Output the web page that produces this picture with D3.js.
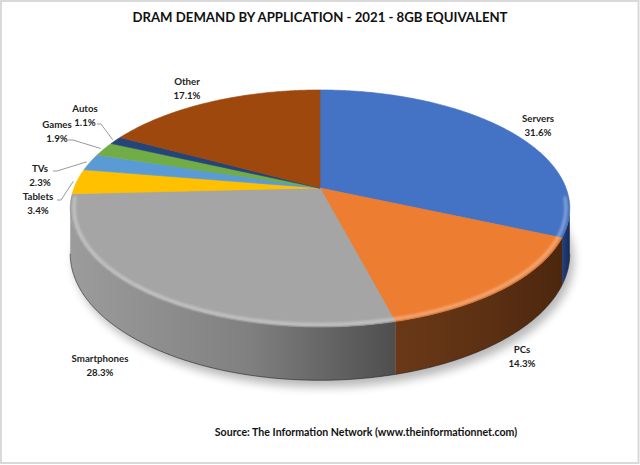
<!DOCTYPE html>
<html>
<head>
<meta charset="utf-8">
<script src="https://cdn.jsdelivr.net/npm/d3@7"></script>
<style>
html,body{margin:0;padding:0;background:#fff;}
svg{display:block;}
</style>
</head>
<body>
<svg id="chart" width="640" height="465"></svg>
<script>
// ---- data ----
const categories = ["Servers","PCs","Smartphones","Tablets","TVs","Games","Autos","Other"];
const shares = [31.6, 14.3, 28.3, 3.4, 2.3, 1.9, 1.1, 17.1];
const pctLabels = ["31.6%","14.3%","28.3%","3.4%","2.3%","1.9%","1.1%","17.1%"];
const titleText = "DRAM DEMAND BY APPLICATION - 2021 - 8GB EQUIVALENT";
const sourceText = "Source: The Information Network (www.theinformationnet.com)";

// ---- styles / layout ----
const topColors = ["#4472C4","#ED7D31","#A5A5A5","#FFC000","#5B9BD5","#70AD47","#264478","#9E480E"];
const sideStops = {
  Servers: ["#23427f","#1c356a","#152a55"],
  PCs: ["#6a3817","#5c3013","#4c270e"],
  Smartphones: ["#9c9c9c","#808080","#4e4e4e"],
  Tablets: ["#a07800","#8a6800","#705400"],
  TVs: ["#3a6a96","#30597f","#254766"],
  Games: ["#4b7a2e","#3f6826","#32531e"],
  Autos: ["#182c50","#142444","#0f1c36"],
  Other: ["#6a300a","#5a2808","#4a2006"]
};
// label block centre x and centre y of first line; optional leader start
const labelLayout = {
  Servers: {x:538, y:119},
  PCs: {x:522, y:350},
  Smartphones: {x:100, y:359},
  Tablets: {x:38, y:197, lead:[57,200], bend:[61,200]},
  TVs: {x:40, y:169, lead:[53,171], bend:[57,171]},
  Games: {x:57, y:125, lead:[68,140], bend:[73,140]},
  Autos: {x:85, y:109, lead:[97,124], bend:[101,124]},
  Other: {x:187, y:82}
};

// ---- projection (perspective ellipse) ----
const cx = 320, cy = 188, A = 246, B = 115, K = 0.173, H = 44;
function proj(phi, r, depth) {
  r = r == null ? 1 : r; depth = depth || 0;
  const u = r*Math.sin(phi), v = -r*Math.cos(phi);
  const s = 1/(1 - K*v);
  return [cx + A*u*s, cy + B*v*s + depth*s];
}

const svg = d3.select("#chart");
const defs = svg.append("defs");

// frame
svg.append("rect").attr("x",0).attr("y",0).attr("width",640).attr("height",465).attr("fill","#fff");
svg.append("rect").attr("x",1).attr("y",1).attr("width",637.5).attr("height",462).attr("fill","none")
  .attr("stroke","#d9d9d9").attr("stroke-width",2);

// filters
const f = defs.append("filter").attr("id","blur").attr("x","-20%").attr("y","-20%").attr("width","140%").attr("height","140%");
f.append("feGaussianBlur").attr("stdDeviation",5);
const f2 = defs.append("filter").attr("id","blur2").attr("x","-20%").attr("y","-20%").attr("width","140%").attr("height","140%");
f2.append("feGaussianBlur").attr("stdDeviation",1.6);

const pie = d3.pie().sort(null).startAngle(0).endAngle(2*Math.PI).value(d => d);
const arcs = pie(shares);

function rimPts(a0, a1, r, depth) {
  const n = Math.max(2, Math.ceil(Math.abs(a1-a0)/0.01));
  const pts = [];
  for (let i=0;i<=n;i++) pts.push(proj(a0 + (a1-a0)*i/n, r, depth));
  return pts;
}
const line = d3.line();

// soft shadow under the whole pie
const phiR = Math.acos(-K), phiL = 2*Math.PI - phiR;
const shadowPts = rimPts(0, 2*Math.PI, 1.0, H+4).map(p => [p[0]+4, p[1]+2]);
svg.append("path").attr("d", line(shadowPts)+"Z").attr("fill","#000").attr("opacity",0.28).attr("filter","url(#blur)");

// side walls (front visible part only)
const gWalls = svg.append("g");
arcs.forEach((d,i) => {
  const a0 = Math.max(d.startAngle, phiR), a1 = Math.min(d.endAngle, phiL);
  if (a1 <= a0) return;
  const top = rimPts(a0, a1, 1, 0);
  const bot = rimPts(a1, a0, 1, H);
  const gid = "side"+i;
  const x0 = proj(a0)[0], x1 = proj(a1)[0];
  const lg = defs.append("linearGradient").attr("id",gid).attr("gradientUnits","userSpaceOnUse")
    .attr("x1", Math.min(x0,x1)).attr("x2", Math.max(x0,x1)).attr("y1",0).attr("y2",0);
  const st = sideStops[categories[i]];
  lg.append("stop").attr("offset","0%").attr("stop-color", st[0]);
  lg.append("stop").attr("offset","55%").attr("stop-color", st[1]);
  lg.append("stop").attr("offset","100%").attr("stop-color", st[2]);
  gWalls.append("path").attr("d", line(top.concat(bot))+"Z").attr("fill","url(#"+gid+")");
});
// darker edge along bottom of wall
svg.append("path").attr("d", line(rimPts(phiR, phiL, 1, H))).attr("fill","none").attr("stroke","#222").attr("stroke-width",1).attr("opacity",0.6);

// top face slices
const gTop = svg.append("g");
arcs.forEach((d,i) => {
  const pts = [[cx,cy]].concat(rimPts(d.startAngle, d.endAngle, 1, 0));
  gTop.append("path").attr("d", line(pts)+"Z").attr("fill", topColors[i])
    .attr("stroke", topColors[i]).attr("stroke-width",0.6).attr("stroke-linejoin","round");
});

// bevel highlight along front rim
const bevelClip = defs.append("clipPath").attr("id","topclip");
bevelClip.append("path").attr("d", line(rimPts(0, 2*Math.PI, 1, 0))+"Z");
svg.append("path").attr("d", line(rimPts(phiR-0.1, phiL+0.1, 0.985, 0)))
  .attr("fill","none").attr("stroke","#ffffff").attr("stroke-width",2.2).attr("opacity",0.5)
  .attr("filter","url(#blur2)").attr("clip-path","url(#topclip)");
svg.append("path").attr("d", line(rimPts(phiR-0.1, phiL+0.1, 1.0, 0)))
  .attr("fill","none").attr("stroke","#555").attr("stroke-width",1.4).attr("opacity",0.25)
  .attr("clip-path","url(#topclip)");

// title
const font = "Lato, 'Open Sans', 'DejaVu Sans', sans-serif";
svg.append("text").attr("x",320).attr("y",22).attr("text-anchor","middle")
  .attr("font-family",font).attr("font-weight","bold").attr("font-size",13.2).attr("fill","#111")
  .text(titleText);

// labels
const gLab = svg.append("g").attr("font-family",font).attr("font-weight","bold").attr("font-size",9.7).attr("fill","#1e1e1e");
categories.forEach((c,i) => {
  const L = labelLayout[c];
  gLab.append("text").attr("x",L.x).attr("y",L.y+3.4).attr("text-anchor","middle").text(c);
  gLab.append("text").attr("x",L.x).attr("y",L.y+13.5+3.4).attr("text-anchor","middle").text(pctLabels[i]);
  if (L.lead) {
    const d = arcs[i];
    const mid = (d.startAngle + d.endAngle)/2;
    const end = proj(mid, 1.015, 0);
    svg.append("path").attr("d", line([L.lead, L.bend, end])).attr("fill","none")
      .attr("stroke","#9a9a9a").attr("stroke-width",1);
  }
});

// source
svg.append("text").attr("x",366).attr("y",436).attr("text-anchor","middle")
  .attr("font-family",font).attr("font-weight","bold").attr("font-size",10.6).attr("fill","#111")
  .text(sourceText);
</script>
</body>
</html>
